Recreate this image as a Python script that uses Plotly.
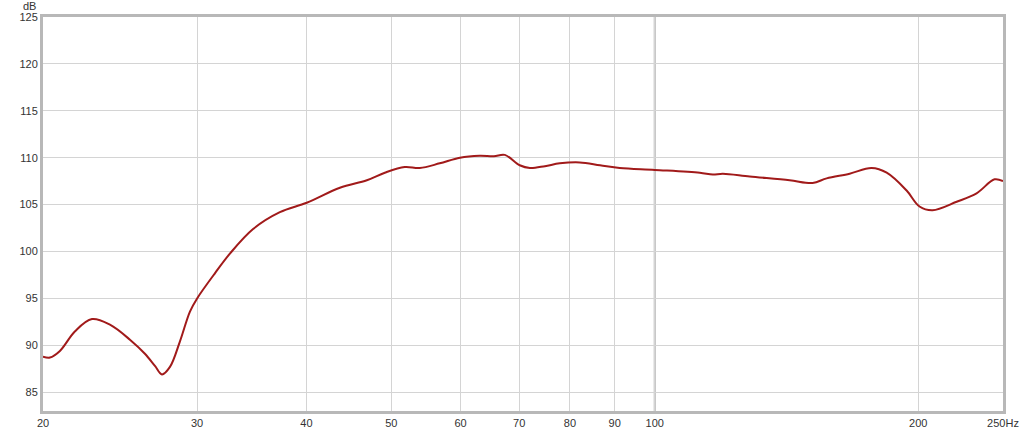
import plotly.graph_objects as go

# frequency response (Hz, dB)
freq = [20.0, 20.37, 20.91, 21.76, 22.75, 23.85, 25.14, 26.15, 26.85, 27.35,
        27.93, 28.67, 29.44, 30.0, 31.45, 32.72, 34.76, 37.30, 40.03, 43.68,
        46.89, 49.16, 51.8, 53.9, 56.8, 59.9, 63.1, 65.5, 67.4, 70.1,
        72.0, 74.9, 77.9, 82.1, 86.6, 91.2, 100.0, 112.6, 116.5, 119.6,
        128.4, 142.6, 151.5, 157.2, 167.0, 176.9, 184.1, 194.0, 200.7, 207.7,
        221.3, 233.2, 244.5, 250.0]
spl = [88.8, 88.7, 89.4, 91.5, 92.8, 92.2, 90.6, 89.1, 87.8, 86.9,
       87.7, 90.4, 93.6, 95.0, 97.7, 99.8, 102.4, 104.2, 105.2, 106.8,
       107.6, 108.4, 109.0, 108.9, 109.4, 110.0, 110.2, 110.15, 110.3, 109.2,
       108.9, 109.1, 109.4, 109.5, 109.2, 108.9, 108.7, 108.4, 108.2, 108.3,
       108.0, 107.6, 107.3, 107.8, 108.3, 108.9, 108.4, 106.5, 104.8, 104.4,
       105.3, 106.2, 107.7, 107.5]

x_ticks = [20, 30, 40, 50, 60, 70, 80, 90, 100, 200, 250]
x_labels = ["20", "30", "40", "50", "60", "70", "80", "90", "100", "200", "250Hz"]
y_ticks = [85, 90, 95, 100, 105, 110, 115, 120, 125]

fig = go.Figure()
fig.add_trace(go.Scatter(x=freq, y=spl, mode="lines",
                         line=dict(color="#a11a1a", width=2, shape="spline", smoothing=1.0),
                         hoverinfo="x+y"))

# darker 100 Hz line
fig.add_shape(type="line", xref="x", yref="paper", x0=100, x1=100, y0=0, y1=1,
              line=dict(color="#b4b4b4", width=2), layer="below")

fig.add_annotation(text="dB", xref="paper", yref="paper", x=-0.005, y=1.0,
                   xanchor="right", yanchor="bottom", yshift=3, showarrow=False,
                   font=dict(size=11, color="#333"))

fig.update_xaxes(type="log", range=[1.30103, 2.39794], tickvals=x_ticks, ticktext=x_labels,
                 showgrid=True, gridcolor="#d4d4d4", gridwidth=1, automargin=False,
                 showline=True, mirror=True, linecolor="#b8b8b8", linewidth=3,
                 ticks="", tickfont=dict(size=11, color="#333"), zeroline=False)
fig.update_yaxes(range=[83, 125], tickvals=y_ticks, automargin=False,
                 showgrid=True, gridcolor="#d4d4d4", gridwidth=1,
                 showline=True, mirror=True, linecolor="#b8b8b8", linewidth=3,
                 ticks="", tickfont=dict(size=11, color="#333"), zeroline=False)

fig.update_layout(width=1024, height=433, showlegend=False,
                  margin=dict(l=43, r=21, t=17, b=22),
                  paper_bgcolor="white", plot_bgcolor="white",
                  font=dict(family="Liberation Sans, Arial, sans-serif"))

# page body has a default 8px margin; drop it so the figure fills the window
fig.write_html("out.html", config={"displayModeBar": False},
               post_script="document.body.style.margin='0';")
